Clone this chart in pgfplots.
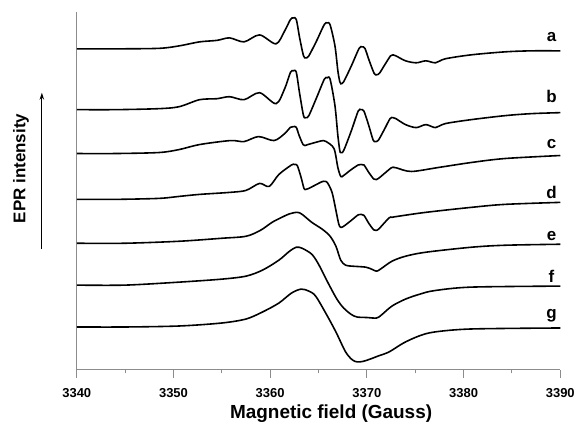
\documentclass[border=0pt]{standalone}
\usepackage{fontspec}
\setmainfont{Liberation Sans}
\usepackage{pgfplots}
\pgfplotsset{compat=1.18}
\usetikzlibrary{arrows.meta}
\pgfplotsset{trace/.style={black, line width=1.6pt, smooth, mark=none}}
\begin{document}
\begin{tikzpicture}
\begin{axis}[
  name=ax,
  scale only axis, width=485pt, height=359pt,
  xmin=3340, xmax=3390, ymin=0, ymax=359,
  axis x line*=bottom, axis y line*=left,
  axis line style={color=black!45, line width=1.2pt},
  xtick={3340,3350,3360,3370,3380,3390},
  xticklabels={\textbf{3340},\textbf{3350},\textbf{3360},\textbf{3370},\textbf{3380},\textbf{3390}},
  minor xtick={3345,3355,3365,3375,3385},
  ytick=\empty,
  tick align=outside,
  major tick length=8pt, minor tick length=3.5pt,
  every tick/.style={color=black!45, line width=1.1pt},
  x tick label style={font=\bfseries\fontsize{13}{14}\selectfont, yshift=-7pt},
  xlabel={Magnetic field (Gauss)},
  xlabel style={font=\bfseries\fontsize{19}{20}\selectfont, at={(axis description cs:0.526,-0.1226)}, anchor=center},
  ylabel={EPR intensity},
  ylabel style={font=\bfseries\fontsize{17}{18}\selectfont, at={(axis description cs:-0.1155,0.5627)}, anchor=center},
  clip=false,
]
% a
\addplot[trace] coordinates {(3340,322) (3344,322) (3348.5,322.5) (3350.6,325) (3352.7,329) (3354.5,330.5) (3355.8,333) (3357.3,329) (3358.9,336) (3360.6,327) (3361.5,340) (3362.1,351.5) (3362.4,353) (3362.7,351.5) (3363.05,333) (3363.45,315) (3363.7,313) (3364.0,315) (3364.8,330) (3365.6,346.5) (3365.9,348) (3366.2,346) (3366.7,325) (3367.0,300) (3367.2,289) (3367.3,287) (3367.6,289) (3368.4,305) (3369.2,322.5) (3369.5,324) (3369.8,322.5) (3370.25,310) (3370.75,297.5) (3371.0,296) (3371.3,297.5) (3371.85,306) (3372.45,315) (3372.7,316) (3373.0,315) (3374.0,310) (3375.1,308) (3376.1,310) (3377.1,308) (3378.1,312) (3380.8,316) (3384.3,319) (3387,320) (3390,320)};
% b
\addplot[trace] coordinates {(3340,261) (3344,261) (3348.5,262) (3350.6,264) (3352.7,271) (3354.5,272) (3355.8,274) (3357.3,271) (3358.9,278) (3360.6,267) (3361.5,282) (3362.1,298.5) (3362.4,300) (3362.7,298.5) (3363.05,277) (3363.45,255) (3363.7,253) (3364.0,255) (3364.8,273) (3365.6,291.5) (3365.9,293) (3366.2,291.5) (3366.7,265) (3367.0,235) (3367.2,220) (3367.3,218) (3367.6,220) (3368.4,240) (3369.1,259.5) (3369.4,261) (3369.7,259.5) (3370.2,245) (3370.65,230.5) (3370.9,229) (3371.2,230.5) (3371.8,241) (3372.4,252) (3372.7,253) (3373.0,252) (3374.0,246) (3375.1,243) (3376.1,246) (3377.1,243) (3378.1,247) (3380.8,251) (3384.3,255) (3387,257) (3390,258)};
% c
\addplot[trace] coordinates {(3340,217) (3344,217) (3348.5,218) (3350.6,221) (3352.7,226) (3355.9,230) (3357.3,229) (3358.8,234) (3360.4,230) (3361.5,237) (3362.1,243.3) (3362.4,244) (3362.7,243.3) (3363.0,235) (3363.4,226) (3363.6,225) (3363.9,226) (3365.2,229.5) (3365.5,230) (3365.8,229) (3366.6,222) (3367.0,203) (3367.3,194) (3367.6,195) (3368.4,201) (3369.1,205.5) (3369.4,206) (3369.7,205.5) (3370.2,198) (3370.7,191.5) (3370.9,191) (3371.2,192) (3372.5,202.5) (3372.8,203) (3373.1,202.5) (3374.6,199) (3377.4,203) (3380.8,208) (3384.3,212) (3390,215)};
% d
\addplot[trace] coordinates {(3340,171) (3344,171) (3348.5,172) (3350.6,174) (3352.7,176) (3355.8,178) (3357.5,180) (3358.9,187) (3359.9,184) (3360.9,196) (3362.2,205.5) (3362.5,206) (3362.8,205) (3363.2,193) (3363.5,182) (3363.7,181) (3364.0,182) (3365.3,188.5) (3365.6,189) (3365.9,188) (3366.4,178) (3366.8,160) (3367.1,146) (3367.3,143) (3367.6,144) (3368.4,150) (3369.1,155.5) (3369.4,156) (3369.7,155) (3370.2,147) (3370.7,140.5) (3370.9,140) (3371.2,141) (3372.3,152.5) (3372.6,153) (3373.2,154) (3376.1,158) (3380.8,163) (3384.3,166) (3390,168)};
% e
\addplot[trace] coordinates {(3340,127) (3345,127) (3350.6,129) (3355,132) (3357.5,134) (3359,140) (3360.2,148) (3361.2,153) (3362.0,156.5) (3362.8,158) (3363.3,156) (3364.3,148) (3365.4,141) (3366.2,134) (3366.8,124) (3367.3,110) (3367.8,105) (3368.5,104) (3369.9,103) (3370.6,100.5) (3371.0,99) (3371.4,101) (3372.6,109) (3374,114) (3376.1,118) (3380.8,123) (3384.3,125) (3390,126)};
% f
\addplot[trace] coordinates {(3340,85) (3345,85) (3350.6,88) (3355,91) (3357.5,94) (3359.2,100) (3360.9,110) (3362.0,119) (3362.7,123) (3363.3,122) (3364.3,116) (3365.0,106) (3366.0,87) (3366.9,71) (3367.6,62) (3368.4,55.5) (3369.0,53) (3370.0,52.5) (3371.0,52) (3371.5,55) (3372.6,64) (3374,71) (3375.5,76) (3377,79.5) (3380.8,83) (3390,84)};
% g
\addplot[trace] coordinates {(3340,43) (3345,43) (3350.6,44) (3355,47) (3357.5,51) (3359.2,58) (3360.9,67) (3362.2,77) (3363.2,81) (3364.0,79) (3364.7,74) (3365.8,56) (3366.8,38) (3367.8,18) (3368.5,10) (3369.0,8) (3369.6,8.5) (3370.4,11) (3371.2,14) (3372.3,18) (3373.8,27) (3375.4,34) (3377,38) (3380.8,41) (3390,42)};
\begin{scope}[font=\bfseries\fontsize{17}{18}\selectfont]
\node at (axis cs:3389.1,334) {a};
\node at (axis cs:3389.1,274) {b};
\node at (axis cs:3389.1,227) {c};
\node at (axis cs:3389.1,178) {d};
\node at (axis cs:3389.1,134) {e};
\node at (axis cs:3389.1,94) {f};
\node at (axis cs:3389.1,54) {g};
\end{scope}
\draw[line width=1.3pt, -{Stealth[length=7pt,width=4.5pt]}] (axis description cs:-0.0722,0.337) -- (axis description cs:-0.0722,0.7744);
\end{axis}
\path ([shift={(-77pt,-60pt)}]ax.south west) rectangle ([shift={(501pt,371pt)}]ax.south west);
\end{tikzpicture}
\end{document}
